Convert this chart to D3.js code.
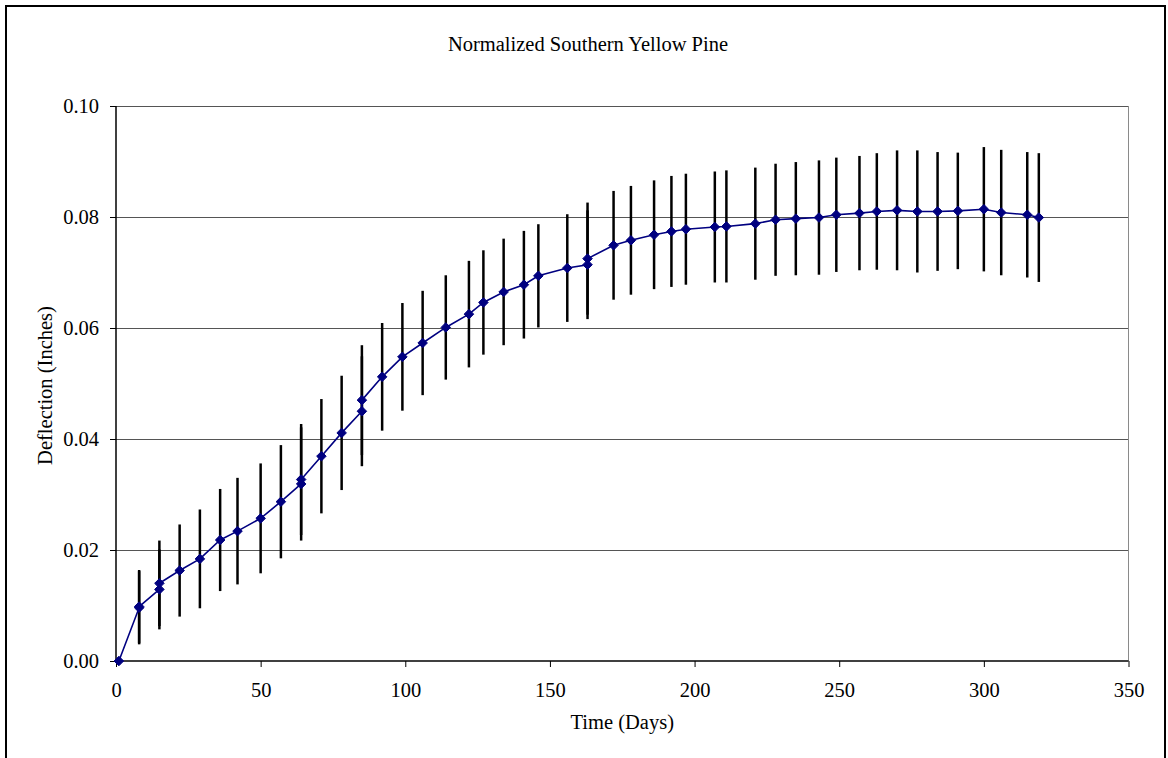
<!DOCTYPE html>
<html>
<head>
<meta charset="utf-8">
<script src="https://cdn.jsdelivr.net/npm/d3@7"></script>
<style>
  html, body { margin: 0; padding: 0; background: #fff; }
  svg { display: block; }
  text { font-family: "Liberation Serif", "Times New Roman", Tinos, "DejaVu Serif", serif; fill: #000; }
</style>
</head>
<body>
<svg id="chart" width="1168" height="758"></svg>
<script>
// Elapsed time of each reading (days)
const days = [1, 8, 8, 15, 15, 22, 29, 36, 42, 50, 57, 64, 64, 71, 78, 85, 85, 92, 99, 106,
  114, 122, 127, 134, 141, 146, 156, 163, 163, 172, 178, 186, 192, 197, 207, 211, 221, 228,
  235, 243, 249, 257, 263, 270, 277, 284, 291, 300, 306, 315, 319];

// Mean normalized deflection (inches)
const deflection = [0.0000, 0.0096, 0.0098, 0.0129, 0.0140, 0.0163, 0.0184, 0.0218, 0.0234,
  0.0257, 0.0287, 0.0319, 0.0327, 0.0369, 0.0411, 0.0450, 0.0470, 0.0512, 0.0548, 0.0573,
  0.0601, 0.0625, 0.0646, 0.0665, 0.0678, 0.0694, 0.0708, 0.0714, 0.0725, 0.0749, 0.0758,
  0.0768, 0.0774, 0.0778, 0.0782, 0.0783, 0.0788, 0.0795, 0.0797, 0.0799, 0.0804, 0.0807,
  0.0810, 0.0812, 0.0810, 0.0810, 0.0811, 0.0814, 0.0808, 0.0804, 0.0799];

// Half-width of the error bar (± inches)
const errorHalf = [0.0000, 0.0066, 0.0066, 0.0072, 0.0077, 0.0083, 0.0089, 0.0092, 0.0096,
  0.0099, 0.0102, 0.0102, 0.0100, 0.0103, 0.0103, 0.0099, 0.0099, 0.0097, 0.0097, 0.0094,
  0.0094, 0.0096, 0.0094, 0.0096, 0.0097, 0.0093, 0.0097, 0.0098, 0.0101, 0.0098, 0.0098,
  0.0098, 0.0100, 0.0100, 0.0100, 0.0101, 0.0101, 0.0101, 0.0102, 0.0103, 0.0103, 0.0103,
  0.0105, 0.0108, 0.0110, 0.0107, 0.0105, 0.0112, 0.0113, 0.0113, 0.0116];

const xTicks = [0, 50, 100, 150, 200, 250, 300, 350];
const yTicks = [0.00, 0.02, 0.04, 0.06, 0.08, 0.10];

const titleText = "Normalized Southern Yellow Pine";
const xTitle = "Time (Days)";
const yTitle = "Deflection (Inches)";

const fontFamily = '"Liberation Serif", "Times New Roman", Tinos, "DejaVu Serif", serif';
const fontSize = "20.5px";

const points = days.map((d, i) => ({ day: d, value: deflection[i], err: errorHalf[i] }));

const svg = d3.select("#chart");
const plot = { left: 116, right: 1128.5, top: 106, bottom: 661 };

const x = d3.scaleLinear().domain([0, 350]).range([plot.left, plot.right]);
const y = d3.scaleLinear().domain([0, 0.10]).range([plot.bottom, plot.top]);

// Outer chart frame
svg.append("rect")
  .attr("x", 6).attr("y", 6)
  .attr("width", 1159).attr("height", 800)
  .attr("fill", "#fff").attr("stroke", "#000").attr("stroke-width", 2);

// Horizontal gridlines
svg.append("g")
  .selectAll("line")
  .data(yTicks.filter(t => t > 0))
  .join("line")
  .attr("x1", plot.left).attr("x2", plot.right)
  .attr("y1", d => Math.round(y(d)) + 0.5).attr("y2", d => Math.round(y(d)) + 0.5)
  .attr("stroke", "#555").attr("stroke-width", 1);

// Plot area right border
svg.append("line")
  .attr("x1", plot.right).attr("x2", plot.right)
  .attr("y1", plot.top).attr("y2", plot.bottom)
  .attr("stroke", "#8a8a8a").attr("stroke-width", 1);

// Axes
const xAxis = d3.axisBottom(x).tickValues(xTicks).tickFormat(d3.format("d")).tickSize(6).tickPadding(15.5);
const yAxis = d3.axisLeft(y).tickValues(yTicks).tickFormat(d3.format(".2f")).tickSize(6).tickPadding(11);

const gx = svg.append("g").attr("transform", `translate(0,${plot.bottom})`).call(xAxis);
const gy = svg.append("g").attr("transform", `translate(${plot.left},0)`).call(yAxis);

[gx, gy].forEach(g => {
  g.attr("font-family", null).attr("font-size", null);
  g.select(".domain").attr("stroke", "#000").attr("stroke-width", 1.5);
  g.selectAll(".tick line").attr("stroke", "#000").attr("stroke-width", 1);
  g.selectAll(".tick text")
    .style("font-family", fontFamily)
    .style("font-size", fontSize).attr("fill", "#000");
});
gy.select(".domain").attr("d", `M0,${plot.top}V${plot.bottom}`);
gx.select(".domain").attr("d", `M${plot.left},0H${plot.right}`);

// Error bars
svg.append("g")
  .selectAll("line")
  .data(points.filter(p => p.err > 0))
  .join("line")
  .attr("x1", p => x(p.day)).attr("x2", p => x(p.day))
  .attr("y1", p => y(p.value + p.err)).attr("y2", p => y(p.value - p.err))
  .attr("stroke", "#000").attr("stroke-width", 2.5);

// Series line
const line = d3.line().x(p => x(p.day)).y(p => y(p.value));
svg.append("path")
  .datum(points)
  .attr("d", line)
  .attr("fill", "none")
  .attr("stroke", "#000080")
  .attr("stroke-width", 1.6);

// Diamond markers
const diamond = d3.symbol().type(d3.symbolDiamond2).size(58);
svg.append("g")
  .selectAll("path")
  .data(points)
  .join("path")
  .attr("transform", p => `translate(${x(p.day)},${y(p.value)})`)
  .attr("d", diamond)
  .attr("fill", "#000080")
  .attr("stroke", "#000080")
  .attr("stroke-width", 1);

// Titles
svg.append("text")
  .attr("x", 588).attr("y", 50.5)
  .attr("text-anchor", "middle")
  .style("font-size", fontSize)
  .text(titleText);

svg.append("text")
  .attr("x", (plot.left + plot.right) / 2).attr("y", 729)
  .attr("text-anchor", "middle")
  .style("font-size", fontSize)
  .text(xTitle);

svg.append("text")
  .attr("transform", `translate(52,385.5) rotate(-90)`)
  .attr("text-anchor", "middle")
  .style("font-size", fontSize)
  .text(yTitle);
</script>
</body>
</html>
